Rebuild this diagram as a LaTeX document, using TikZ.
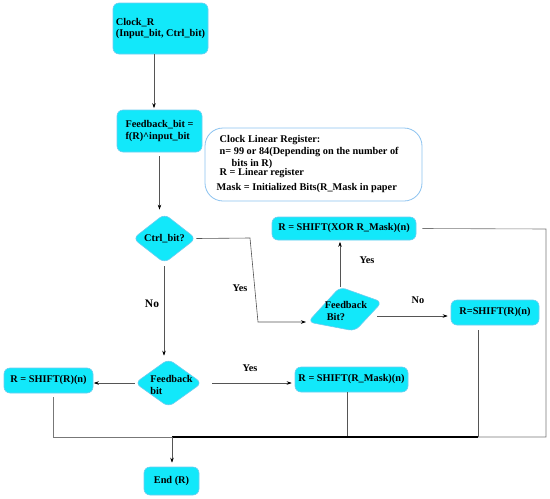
\documentclass[tikz,border=0pt]{standalone}
\usepackage{fontspec}
\setmainfont{Liberation Serif}
\usetikzlibrary{shapes.geometric,arrows.meta}
\definecolor{boxfill}{RGB}{18,232,250}
\definecolor{boxline}{RGB}{110,205,240}
\definecolor{connc}{RGB}{85,85,85}
\definecolor{noteline}{RGB}{140,195,240}
\begin{document}
\begin{tikzpicture}[x=1pt,y=-1pt,
  every node/.style={font=\bfseries\fontsize{10.3}{11.5}\selectfont,text=black},
  box/.style={draw=boxline,fill=boxfill,rounded corners=6pt,inner sep=0pt,line width=0.6pt},
  dia/.style={shape=diamond,draw=boxline,fill=boxfill,rounded corners=6pt,inner sep=0pt,line width=0.6pt},
  conn/.style={draw=connc,line width=0.6pt},
  arr/.style={conn,-{Stealth[length=5pt,width=3.5pt,black]}},
  lbl/.style={inner sep=0pt}]
\useasboundingbox (0,0) rectangle (550,499);

% nodes
\node[box,minimum width=95pt,minimum height=51pt,align=left] (clock) at (160.5,28.5) {Clock\_R\\(Input\_bit, Ctrl\_bit)};
\node[box,minimum width=85pt,minimum height=42pt,align=left] (fbit) at (159.5,131) {Feedback\_bit =\\f(R)\textasciicircum input\_bit};
\node[draw=noteline,fill=white,rounded corners=18pt,line width=0.8pt,minimum width=217pt,minimum height=73pt,inner sep=0pt] (note) at (313.5,164.5) {};
\node[lbl,align=left,anchor=north west] (notetext) at (219.5,135.5) {Clock Linear Register:\\[0.5pt]
n= 99 or 84(Depending on the number of\\
\hspace*{12pt}bits in R)\\[-2pt]
R = Linear register\\[3pt]
\hspace*{-3pt}Mask = Initialized Bits(R\_Mask in paper};
\node[dia,minimum width=63pt,minimum height=47pt] (ctrl) at (164.5,238.5) {Ctrl\_bit?};
\node[dia,minimum width=67pt,minimum height=48pt,
  label={[lbl,align=left,xshift=3pt,yshift=-2pt]center:Feedback\\bit}] (fb1) at (168.5,383) {};
\node[box,minimum width=89pt,minimum height=25pt] (lshift) at (48.5,380.5) {R = SHIFT(R)(n)};
\node[box,minimum width=113pt,minimum height=25pt] (mshift) at (351.5,379.5) {R = SHIFT(R\_Mask)(n)};
\node[box,minimum width=144pt,minimum height=23pt] (xshift) at (344,228.5) {R = SHIFT(XOR R\_Mask)(n)};
\node[box,minimum width=88pt,minimum height=25pt] (rshift) at (495,312.5) {R=SHIFT(R)(n)};
\node[box,minimum width=55pt,minimum height=28pt] (endbox) at (171.5,481) {End (R)};

% skewed decision shape
\coordinate (fbqL) at (308,322);
\coordinate (fbqT) at (340,287);
\coordinate (fbqR) at (382,302);
\coordinate (fbqB) at (355,331);
\filldraw[draw=boxline,fill=boxfill,line width=0.6pt,rounded corners=6pt] (fbqL) -- (fbqT) -- (fbqR) -- (fbqB) -- cycle;
\node[lbl,align=left] (fbq) at (346,311) {Feedback\\\hspace*{2pt}Bit?};

% connector helper points
\coordinate (c1) at (250,238);
\coordinate (c2) at (258,322);
\coordinate (fbqE) at (377,316);
\coordinate (j) at (172,437);
\coordinate (jl) at (53,437);
\coordinate (jr) at (478,437);
\coordinate (rr1) at (546,229);
\coordinate (rr2) at (546,437);

% connectors
\draw[arr,shorten >=1.5pt] ([xshift=-6.5pt]clock.south) -- ([xshift=-5.5pt]fbit.north);
\draw[arr,shorten <=4pt,shorten >=4pt] (fbit.south) -- (fbit.south |- ctrl.north);
\draw[arr,shorten >=2pt] (ctrl.east) -- (c1) -- (c2) -- (fbqL);
\draw[arr,shorten <=3pt,shorten >=3pt] ([xshift=-0.5pt]ctrl.south) -- ([xshift=-0.5pt]ctrl.south |- fb1.north);
\draw[arr,shorten >=0.5pt] (fb1.west) -- (fb1.west -| lshift.east);
\draw[arr,shorten <=10pt,shorten >=3pt] (fb1.east) -- (fb1.east -| mshift.west);
\draw[arr,shorten >=1.5pt] (fbqT) -- (fbqT |- xshift.south);
\draw[arr,shorten >=3pt] (fbqE) -- (fbqE -| rshift.west);

\draw[conn,draw=connc!80] ([xshift=4.5pt]lshift.south) ++(0,4) -- (jl) -- (j);
\draw[conn] ([xshift=-4.5pt]mshift.south) -- ([xshift=-4.5pt]mshift.south |- j);
\draw[conn] ([xshift=-17pt]rshift.south) ++(0,5) -- (jr);
\draw[conn,draw=connc!80] ([xshift=6pt]xshift.east) -- (rr1) -- (rr2) -- (jr);
\draw[black,line width=1.3pt] (j) -- (jr);
\draw[arr,shorten >=4pt] (j) -- (j |- endbox.north);

% labels
\node[lbl] (yes1) at (240,288) {Yes};
\node[lbl,font=\bfseries\fontsize{11.5}{13}\selectfont] (no1) at (152,304) {No};
\node[lbl] (yes2) at (250,368) {Yes};
\node[lbl] (yes3) at (367,260) {Yes};
\node[lbl] (no2) at (418,300) {No};
\end{tikzpicture}
\end{document}
